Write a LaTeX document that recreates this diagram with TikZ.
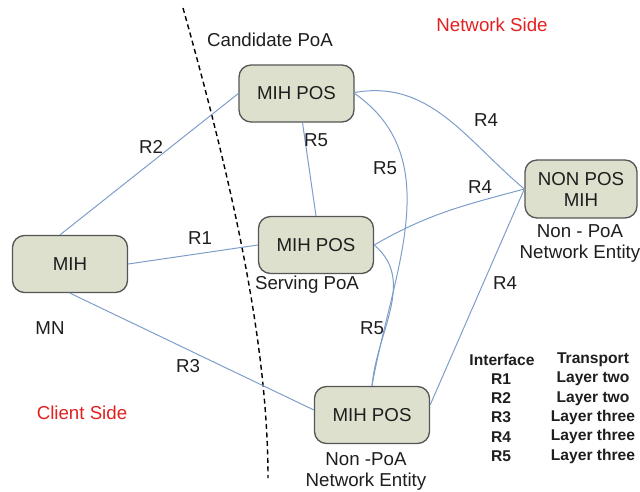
\documentclass[tikz,border=0pt]{standalone}
\usepackage{fontspec}
\setmainfont{Liberation Sans}
\usetikzlibrary{positioning}

\definecolor{boxfill}{RGB}{221,224,204}
\definecolor{boxline}{RGB}{85,85,85}
\definecolor{linkblue}{RGB}{126,158,202}
\definecolor{sidered}{RGB}{226,32,32}
\definecolor{txt}{RGB}{30,30,30}

\newcommand\lblfont{\fontsize{18.7}{21}\selectfont}
\newcommand\tabfont{\fontsize{15.6}{18}\selectfont\bfseries}

\begin{document}
\begin{tikzpicture}[x=1pt,y=-1pt,
  entity/.style={draw=boxline,fill=boxfill,line width=1.3pt,rounded corners=12pt,
    minimum width=115pt,minimum height=57pt,align=center,inner sep=2pt,
    text=txt,font=\lblfont},
  link/.style={draw=linkblue,line width=1pt},
  lbl/.style={inner sep=0pt,text=txt,font=\lblfont,align=center},
  side/.style={inner sep=0pt,text=sidered,font=\lblfont},
  tab/.style={inner sep=0pt,text=txt,font=\tabfont}]

\useasboundingbox (0,0) rectangle (640,491);

%% client / network border
\draw[line width=1.4pt,dash pattern=on 5pt off 3.5pt]
  (183,8) .. controls (225,158) and (268,330) .. (268,478);

%% entities
\node[entity] (mih)    at (70,264)    {MIH};
\node[entity] (cand)   at (296.5,93.5) {MIH POS};
\node[entity] (serv)   at (316,245)   {MIH POS};
\node[entity] (nonpoa) at (372,415)   {MIH POS};
\node[entity,minimum width=112pt,minimum height=58pt] (nonpos) at (581,189) {NON POS\\MIH};

%% links
\draw[link] ([xshift=-10pt]mih.north) -- (cand.west);
\draw[link] (mih.east) -- (serv.west);
\draw[link] (mih.south) -- ([yshift=5pt]nonpoa.west);
\draw[link] ([xshift=6pt]cand.south) -- (serv.north);
\draw[link] ([yshift=1pt]cand.east) to[out=10,in=140] (nonpos.west);
\draw[link] (cand.east) to[out=-35,in=80] (nonpoa.north);
\draw[link] (serv.east) to[out=30,in=195] (nonpos.west);
\draw[link] (serv.east) to[out=-40,in=85] (nonpoa.north);
\draw[link] (nonpos.west) -- ([yshift=10pt]nonpoa.east);

%% interface labels
\node[lbl] (r2)  at (151,147) {R2};
\node[lbl] (r1)  at (200,238) {R1};
\node[lbl] (r3)  at (188,366) {R3};
\node[lbl] (r5a) at (316,140) {R5};
\node[lbl] (r5b) at (385,168) {R5};
\node[lbl] (r5c) at (372,328) {R5};
\node[lbl] (r4a) at (486,120) {R4};
\node[lbl] (r4b) at (480,187) {R4};
\node[lbl] (r4c) at (505,283) {R4};

%% captions
\node[lbl] (candcap) at (270,40)  {Candidate PoA};
\node[lbl] (servcap) at (307,285) {Serving PoA};
\node[lbl] (mncap)   at (50,328)  {MN};
\node[lbl] (npcap)   at (366,471) {Non -PoA\\Network Entity};
\node[lbl] (nscap)   at (580,244) {Non - PoA\\Network Entity};
\node[side] (netside) at (492,25)  {Network Side};
\node[side] (cliside) at (82,413)  {Client Side};

%% interface table
\node[tab] (ifhead) at (502,360) {Interface};
\node[tab] (trhead) at (593,360) {Transport};
\foreach \r/\t [count=\i] in {R1/Layer two,R2/Layer two,R3/Layer three,R4/Layer three,R5/Layer three}
{
  \node[tab] (if\i) at (501,360+19.2*\i) {\r};
  \node[tab] (tr\i) at (593,360+19.2*\i) {\t};
}

\end{tikzpicture}
\end{document}
